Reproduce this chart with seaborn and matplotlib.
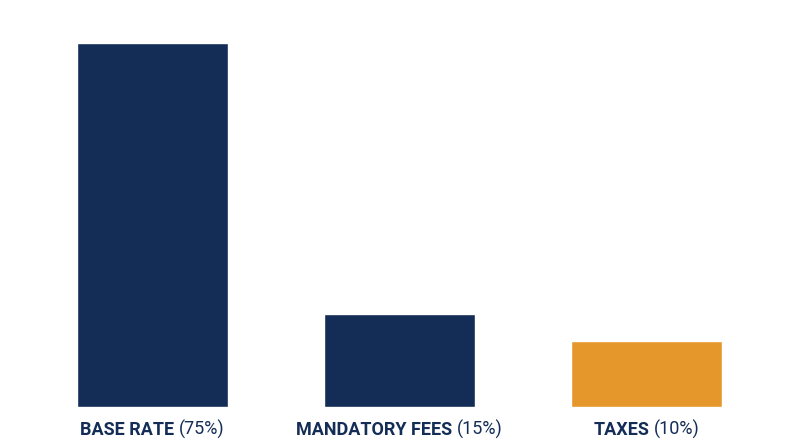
import matplotlib
matplotlib.use("Agg")
import matplotlib.pyplot as plt
import seaborn as sns
import pandas as pd
from matplotlib.offsetbox import TextArea, HPacker, AnnotationBbox

# chart data
categories = ["BASE RATE", "MANDATORY FEES", "TAXES"]
shares = [75, 15, 10]
# bar heights as drawn in the picture (not strictly proportional)
bar_heights = [75, 19.2, 13.6]
colors = ["#132d57", "#132d57", "#e5972b"]

df = pd.DataFrame({"category": categories, "height": bar_heights})

sns.set_theme(style="white")
plt.rcParams["font.family"] = ["Roboto", "DejaVu Sans"]

fig = plt.figure(figsize=(8, 4.47), dpi=100)
ax = fig.add_axes([0, 40 / 447, 1, 407 / 447])

sns.barplot(data=df, x="category", y="height", hue="category",
            palette=colors, width=0.608, saturation=1, legend=False, ax=ax)

ax.set_xlim(-0.617, 2.621)
ax.set_ylim(0, 75 * 407 / 364)
ax.axis("off")

navy = "#132d57"
for i, (name, pct) in enumerate(zip(categories, shares)):
    t1 = TextArea(name, textprops=dict(color=navy, fontsize=13, fontweight="bold"))
    t2 = TextArea(f"({pct}%)", textprops=dict(color=navy, fontsize=13))
    box = HPacker(children=[t1, t2], align="baseline", pad=0, sep=3)
    ab = AnnotationBbox(box, (i, 0), xycoords="data", xybox=(0, -16),
                        boxcoords="offset points", box_alignment=(0.5, 0.5),
                        frameon=False, annotation_clip=False)
    ax.add_artist(ab)

fig.savefig("out.png", dpi=100, facecolor="white")
